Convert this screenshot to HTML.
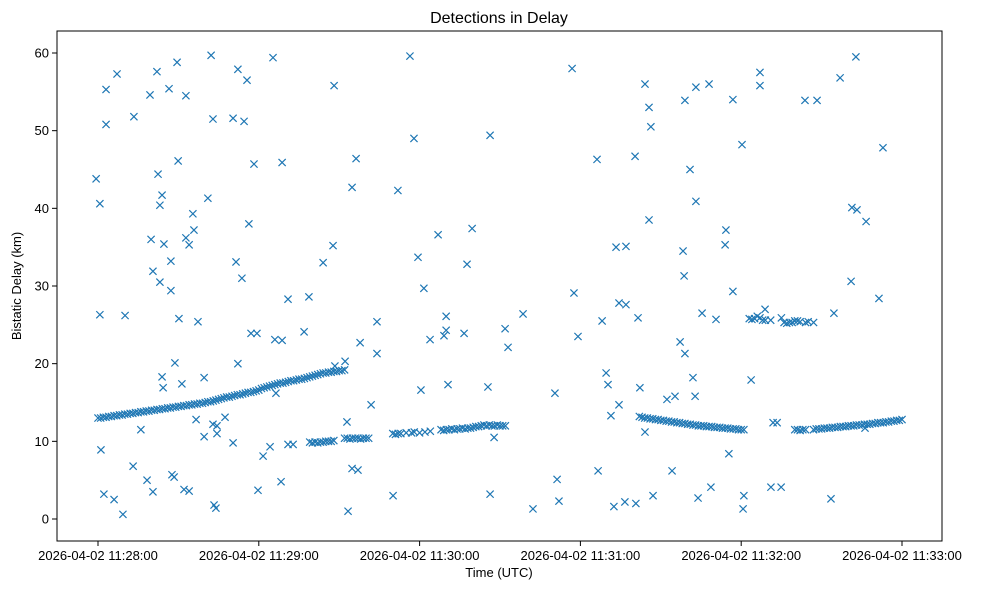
<!DOCTYPE html>
<html><head><meta charset="utf-8"><title>Detections in Delay</title>
<style>
html,body{margin:0;padding:0;background:#fff;}
svg text{font-family:"Liberation Sans","DejaVu Sans",sans-serif;fill:#000;}
</style></head>
<body>
<svg id="chart" width="985" height="590" viewBox="0 0 985 590" xmlns="http://www.w3.org/2000/svg">
<rect width="985" height="590" fill="#fff"/>
<text x="499" y="23" font-size="16" text-anchor="middle">Detections in Delay</text>
<text x="499" y="577" font-size="13" text-anchor="middle">Time (UTC)</text>
<text x="21" y="286" font-size="13" text-anchor="middle" transform="rotate(-90 21 286)">Bistatic Delay (km)</text>
<g id="xticks"></g>
<g id="yticks"></g>
<g id="marks"></g>
<rect x="57" y="31" width="885" height="510" fill="none" stroke="#000" stroke-width="1"/>
</svg>
<script>
// seconds after 2026-04-02 11:28:00 UTC
const xTickSeconds = [0,60,120,180,240,300];
const xTickLabels = ["2026-04-02 11:28:00","2026-04-02 11:29:00","2026-04-02 11:30:00","2026-04-02 11:31:00","2026-04-02 11:32:00","2026-04-02 11:33:00"];
const yTickValues = [0,10,20,30,40,50,60];

const trackATimes = [0,2,4,6,8,10,12,14,16,18,20,22,24,26,28,30,32,34,36,38,40,42,44,46,48,50,52,54,56,58,60,62,64,66,68,70,72,74,76,78,80,82,84,86,88,90,92];
const trackAValues = [13.0,13.1,13.2,13.3,13.4,13.5,13.6,13.7,13.8,13.9,14.0,14.1,14.2,14.3,14.4,14.5,14.6,14.7,14.8,14.9,15.0,15.1,15.3,15.5,15.7,15.8,16.0,16.1,16.3,16.4,16.6,16.9,17.1,17.3,17.5,17.6,17.8,17.9,18.0,18.2,18.4,18.6,18.8,18.9,19.0,19.1,19.2];
const trackA2Times = [1,3,5,7,9,11,13,15,17,19,21,23,25,27,29,31,33,35,37,39,41,43,45,47,49,51,53,55,57,59,61,63,65,67,69,71,73,75,77,79,81,83,85,87,89,91];
const trackA2Values = [13.0,13.1,13.2,13.3,13.4,13.5,13.6,13.7,13.8,13.9,14.0,14.1,14.2,14.3,14.4,14.5,14.6,14.7,14.8,14.9,15.1,15.2,15.4,15.6,15.7,15.9,16.0,16.2,16.3,16.5,16.8,17.0,17.2,17.4,17.5,17.7,17.8,18.0,18.1,18.3,18.5,18.7,18.8,18.9,19.0,19.1];
const trackBTimes = [79,80,81,82,83,84,85,86,87,88,92,93,94,95,96,97,98,99,100,101,110,111,112,113,115,117,118,120,122,124,128,129,130,131,132,133,134,135,136,137,138,139,140,141,142,143,144,145,146,147,148,149,150,151,152];
const trackBValues = [9.9,9.8,9.9,9.8,9.9,9.9,10.0,10.0,10.0,10.1,10.4,10.4,10.3,10.4,10.4,10.4,10.3,10.4,10.4,10.4,11.0,10.9,11.0,11.0,11.1,11.1,11.2,11.1,11.2,11.3,11.5,11.4,11.5,11.5,11.6,11.5,11.6,11.6,11.7,11.6,11.7,11.7,11.8,11.9,11.9,12.0,12.1,12.0,12.1,12.0,12.0,12.1,12.0,12.0,12.0];
const trackCTimes = [202,203,204,205,206,207,208,209,210,211,212,213,214,215,216,217,218,219,220,221,222,223,224,225,226,227,228,229,230,231,232,233,234,235,236,237,238,239,240,241];
const trackCValues = [13.2,13.1,13.0,13.0,12.9,12.9,12.8,12.8,12.7,12.7,12.6,12.6,12.5,12.5,12.4,12.4,12.3,12.3,12.2,12.2,12.1,12.1,12.0,12.0,12.0,11.9,11.9,11.9,11.8,11.8,11.8,11.7,11.7,11.7,11.6,11.6,11.6,11.5,11.5,11.5];
const trackDTimes = [243,244,245,246,247,248,249,251,255,256,257,258,259,260,261,262,264,265,267];
const trackDValues = [25.8,25.7,25.8,26.1,25.9,25.6,25.6,25.6,25.9,25.3,25.2,25.3,25.3,25.5,25.5,25.4,25.3,25.4,25.3];
const trackETimes = [260,261,262,263,264,267,268,269,270,271,272,273,274,275,276,277,278,279,280,281,282,283,284,285,286,287,288,289,290,291,292,293,294,295,296,297,298,299,300];
const trackEValues = [11.5,11.5,11.4,11.5,11.5,11.5,11.6,11.6,11.6,11.7,11.7,11.7,11.8,11.8,11.8,11.9,11.9,11.9,12.0,12.0,12.0,12.1,12.1,12.1,12.2,12.2,12.2,12.3,12.3,12.4,12.4,12.4,12.5,12.5,12.6,12.6,12.7,12.7,12.8];

const scatterTimes = [-0.7,0.7,0.7,1.1,2.2,3.0,3.0,6.0,7.1,9.3,10.1,13.1,13.4,16.0,18.3,19.4,19.8,20.5,20.5,22.0,22.4,23.1,23.1,23.9,23.9,24.3,24.6,26.5,27.2,27.2,27.6,28.4,28.7,29.5,29.9,30.2,31.3,32.1,32.8,32.8,34.0,34.0,35.4,35.8,36.6,37.3,39.6,39.6,41.0,42.2,42.9,42.9,43.3,44.0,44.4,44.4,47.4,50.4,50.4,51.5,52.2,52.2,53.7,54.5,55.6,56.3,57.1,58.2,59.3,59.7,61.6,64.2,65.3,66.0,66.4,68.3,68.7,68.7,70.9,70.9,72.8,76.9,78.7,84.0,88.1,87.7,88.4,92.2,92.9,93.3,94.8,94.8,96.3,97.0,97.8,101.9,104.1,104.1,110.1,111.9,116.4,117.9,119.4,120.5,121.6,123.9,126.9,129.1,129.9,129.9,130.6,136.6,137.7,139.6,145.5,146.3,146.3,147.8,151.9,153.0,158.6,162.3,170.5,171.3,172.0,176.9,177.6,179.1,186.2,186.6,188.1,189.6,190.3,191.4,192.5,193.3,194.4,194.4,196.6,197.0,197.0,200.4,200.7,201.5,202.2,204.1,204.1,205.6,205.6,206.3,207.1,212.3,214.2,215.3,217.2,218.3,218.7,219.0,219.0,220.9,222.0,222.8,223.1,223.1,223.9,225.4,228.0,228.7,230.6,234.0,234.3,235.4,236.9,236.9,240.3,240.7,241.0,243.7,247.0,247.0,248.9,251.1,251.9,253.4,254.9,263.8,268.3,273.5,274.6,276.9,281.0,281.3,282.8,283.2,286.2,286.6,291.4,292.9];
const scatterValues = [43.8,40.6,26.3,8.9,3.2,55.3,50.8,2.5,57.3,0.6,26.2,6.8,51.8,11.5,5.0,54.6,36.0,31.9,3.5,57.6,44.4,40.4,30.5,41.7,18.3,16.9,35.4,55.4,33.2,29.4,5.7,5.4,20.1,58.8,46.1,25.8,17.4,3.8,54.5,36.2,35.3,3.6,39.3,37.2,12.8,25.4,18.2,10.6,41.3,59.7,51.5,12.2,1.8,1.4,11.0,12.0,13.1,51.6,9.8,33.1,57.9,20.0,31.0,51.2,56.5,38.0,23.9,45.7,23.9,3.7,8.1,9.3,59.4,23.1,16.2,4.8,45.9,23.0,28.3,9.6,9.6,24.1,28.6,33.0,55.8,35.2,19.7,20.3,12.5,1.0,42.7,6.5,46.4,6.3,22.7,14.7,21.3,25.4,3.0,42.3,59.6,49.0,33.7,16.6,29.7,23.1,36.6,23.6,26.1,24.3,17.3,23.9,32.8,37.4,17.0,49.4,3.2,10.5,24.5,22.1,26.4,1.3,16.2,5.1,2.3,58.0,29.1,23.5,46.3,6.2,25.5,18.8,17.3,13.3,1.6,35.0,14.7,27.8,2.2,35.1,27.6,46.7,2.0,25.9,16.9,56.0,11.2,53.0,38.5,50.5,3.0,15.4,6.2,15.8,22.8,34.5,31.3,21.3,53.9,45.0,18.2,15.8,40.9,55.6,2.7,26.5,56.0,4.1,25.7,35.3,37.2,8.4,54.0,29.3,48.2,1.3,3.0,17.9,57.5,55.8,27.0,4.1,12.4,12.4,4.1,53.9,53.9,2.6,26.5,56.8,30.6,40.1,59.5,39.8,11.7,38.3,28.4,47.8];

const L=57,R=942,T=31,B=541;
const xScale = s => 98 + s*(902-98)/300;
const yScale = v => 519 - v*(519-53)/60;
const NS="http://www.w3.org/2000/svg";
function mk(tag, attrs, parent){const e=document.createElementNS(NS,tag);for(const k in attrs)e.setAttribute(k,attrs[k]);parent.appendChild(e);return e;}

const xg=document.getElementById('xticks');
xTickSeconds.forEach((s,i)=>{
  const x=xScale(s);
  const tk=mk('line',{x1:x,x2:x,y1:B,y2:B+5,stroke:'#000','stroke-width':1},xg);
  
  
  const t=mk('text',{x:x,y:B+19,'font-size':13,'text-anchor':'middle'},xg);
  t.textContent=xTickLabels[i];
  
  
});
const yg=document.getElementById('yticks');
yTickValues.forEach(v=>{
  const y=yScale(v);
  const tk=mk('line',{x1:L-5,x2:L,y1:y,y2:y,stroke:'#000','stroke-width':1},yg);
  
  
  const t=mk('text',{x:L-8,y:y+4.5,'font-size':13,'text-anchor':'end'},yg);
  t.textContent=String(v);
  
  
});

const mg=document.getElementById('marks');
function drawSeries(times, values){
  times.forEach((s,i)=>{
    const x=xScale(s), y=yScale(values[i]), h=3.6;
    const p=mk('path',{d:`M${x-h},${y-h}L${x+h},${y+h}M${x-h},${y+h}L${x+h},${y-h}`,stroke:'#1f77b4','stroke-width':1.2,fill:'none'},mg);
    
    
  });
}
drawSeries(trackATimes,trackAValues);
drawSeries(trackA2Times,trackA2Values);
drawSeries(trackBTimes,trackBValues);
drawSeries(trackCTimes,trackCValues);
drawSeries(trackDTimes,trackDValues);
drawSeries(trackETimes,trackEValues);
drawSeries(scatterTimes,scatterValues);
</script>
</body></html>
